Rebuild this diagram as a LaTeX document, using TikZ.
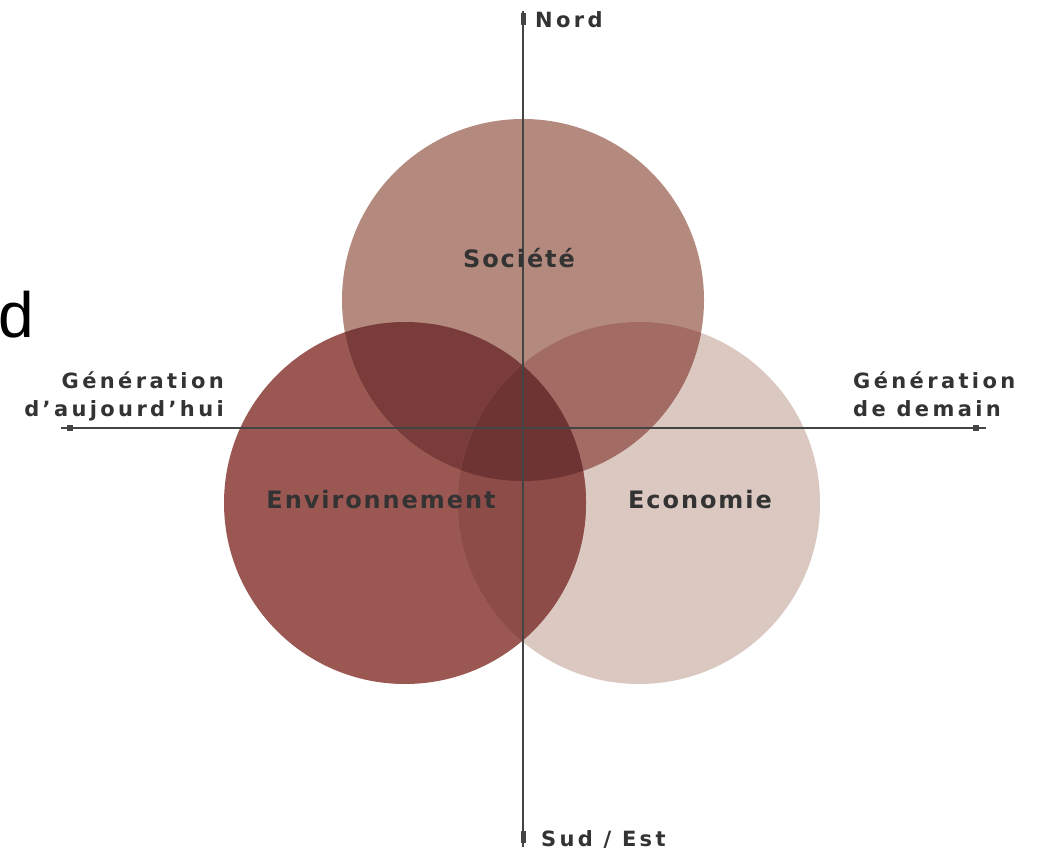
\documentclass[tikz,border=0pt]{standalone}
\usepackage{fontspec}
\newfontfamily\labfont[LetterSpace=16]{DejaVu Sans Bold}
\newfontfamily\circfont[LetterSpace=8]{DejaVu Sans Bold}
\newfontfamily\strayfont{Liberation Sans}
\definecolor{socC}{HTML}{B4897E}
\definecolor{envC}{HTML}{9B5853}
\definecolor{ecoC}{HTML}{DBC9C1}
\definecolor{socenvC}{HTML}{7A3C3A}
\definecolor{socecoC}{HTML}{A26B63}
\definecolor{envecoC}{HTML}{8E4C48}
\definecolor{allC}{HTML}{6E3434}
\definecolor{inkC}{HTML}{333333}
\definecolor{axisC}{HTML}{444444}
\tikzset{
  axisline/.style={draw=axisC, line width=2.2pt},
  endmark/.style={fill=axisC, draw=none, minimum width=6pt, minimum height=6pt, inner sep=0pt, rectangle},
  axislabel/.style={text=inkC, font=\labfont\fontsize{21}{28}\selectfont, inner sep=0pt},
  circlabel/.style={text=inkC, font=\circfont\fontsize{24}{28}\selectfont, inner sep=0pt},
}
\begin{document}
\begin{tikzpicture}[x=1pt,y=-1pt]
\useasboundingbox (0,0) rectangle (1038,850);
\fill[white] (0,0) rectangle (1038,850);
% circle centres
\coordinate (S) at (523,300);
\coordinate (V) at (405,503);
\coordinate (E) at (639,503);
\def\R{181}
% single regions
\fill[ecoC] (E) circle (\R);
\fill[envC] (V) circle (\R);
\fill[socC] (S) circle (\R);
% pairwise with Société
\begin{scope}
  \clip (S) circle (\R);
  \fill[socenvC] (V) circle (\R);
  \fill[socecoC] (E) circle (\R);
\end{scope}
% Environnement / Economie and triple
\begin{scope}
  \clip (V) circle (\R);
  \fill[envecoC] (E) circle (\R);
  \clip (E) circle (\R);
  \fill[allC] (S) circle (\R);
\end{scope}
% axes
\coordinate (nTop) at (523,11);
\coordinate (nBot) at (523,847);
\coordinate (wEnd) at (61,428);
\coordinate (eEnd) at (986,428);
\node[endmark, minimum width=5pt, minimum height=12pt] (mN) at (523,19) {};
\node[endmark, minimum width=5pt, minimum height=12pt] (mS) at (523,837) {};
\node[endmark, minimum width=6pt, minimum height=6pt] (mW) at (70,428) {};
\node[endmark, minimum width=6pt, minimum height=6pt] (mE) at (976,428) {};
\draw[axisline] (nTop) -- (nBot);
\draw[axisline] (wEnd) -- (eEnd);
% labels
\node[axislabel, anchor=base west] (nord) at (535,28) {Nord};
\node[axislabel, anchor=base west] (sud) at (541,846) {Sud / Est};
\node[axislabel, anchor=base east] (genL1) at (224,388) {Génération};
\node[axislabel, anchor=base east] (genL2) at (224,416) {d’aujourd’hui};
\node[axislabel, anchor=base west] (genR1) at (853,388) {Génération};
\node[axislabel, anchor=base west] (genR2) at (853,416) {de demain};
\node[circlabel, anchor=base] (soc) at (519,268) {Société};
\node[circlabel, anchor=base] (env) at (381,508) {Environnement};
\node[circlabel, anchor=base] (eco) at (700,508) {Economie};
% stray letter
\node[font=\strayfont\fontsize{64}{64}\selectfont, text=black, anchor=base west, inner sep=0pt] (stray) at (-2,337) {d};
\end{tikzpicture}
\end{document}
